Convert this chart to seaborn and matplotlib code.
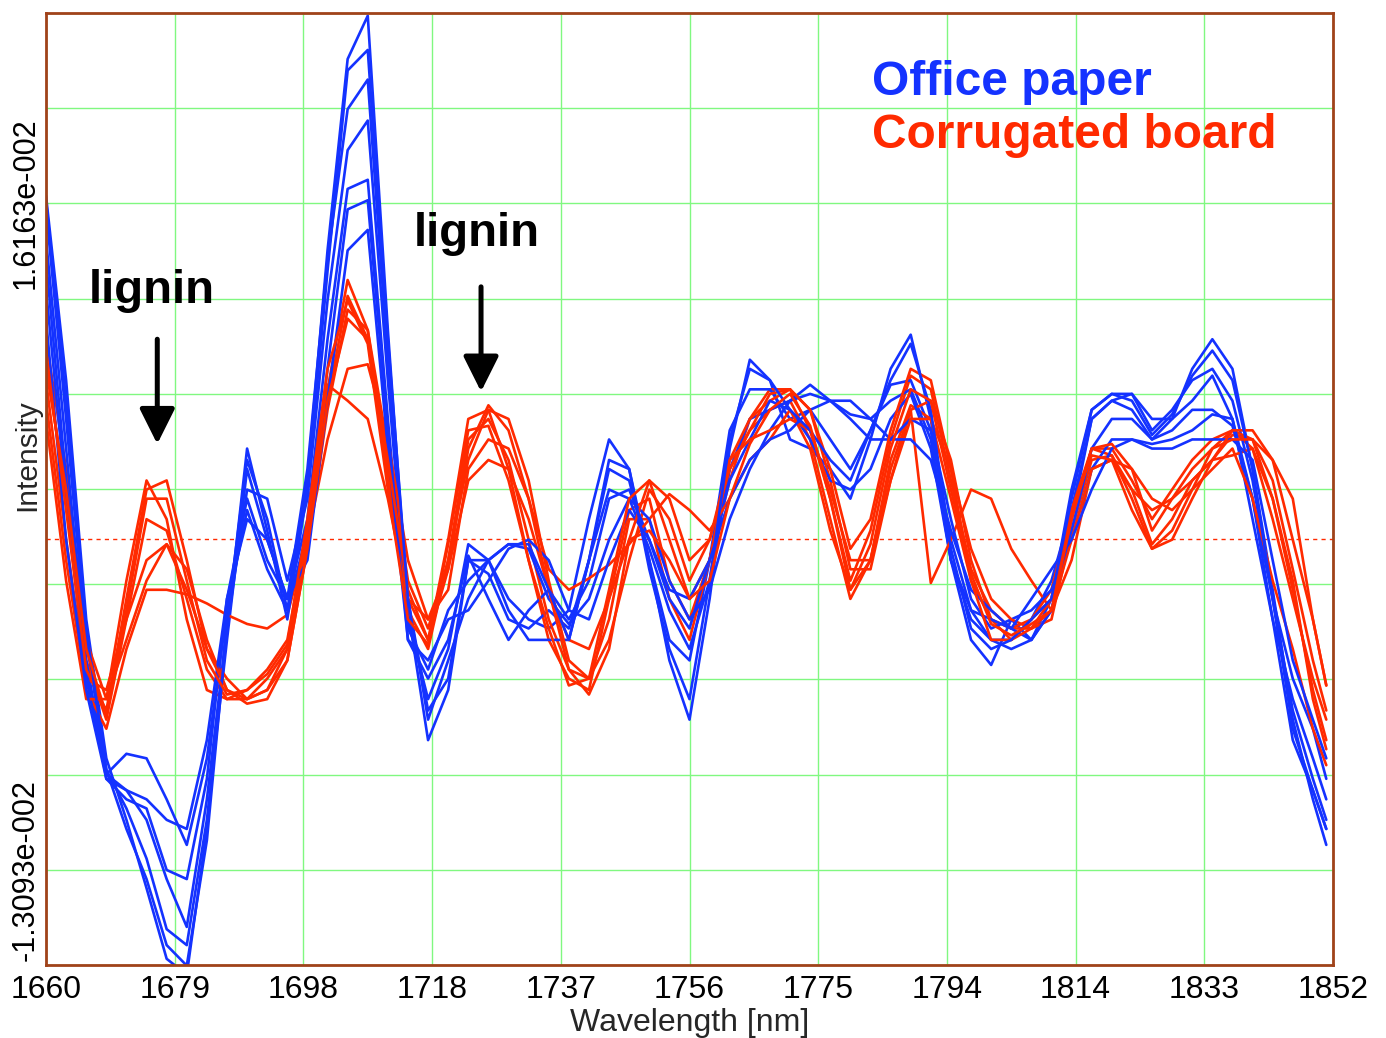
import numpy as np
import pandas as pd
import matplotlib
matplotlib.use("Agg")
import matplotlib.pyplot as plt
import seaborn as sns

# ---------------- data (intensity in units of 1e-3) ----------------
wavelength = np.append(np.arange(1660, 1850, 3), 1851)

office_1 = [16.5, 8.4, -2.1, -8.2, -10.9, -13.9, -17.0, -17.7, -11.3, -2.1,
            4.9, 2.3, -1.7, 4.0, 14.1, 22.5, 24.4, 10.6, -1.7, -7.4,
            -5.2, 0.5, 0.5, -1.2, -2.1, -2.5, -1.7, 2.3, 5.8, 4.5,
            0.5, -3.9, -6.5, -1.2, 5.4, 9.3, 8.4, 5.8, 5.4, 4.5,
            3.2, 5.8, 8.9, 10.4, 6.7, 0.5, -3.0, -4.1, -2.1, -3.0,
            -1.7, 2.3, 6.7, 7.5, 7.1, 5.8, 6.7, 8.9, 10.2, 8.9,
            4.5, -0.8, -6.5, -10.0, -12.0]
office_2 = [15.9, 6.7, -3.0, -8.7, -10.4, -12.6, -15.7, -16.4, -10.9, -3.0,
            4.5, 1.4, -1.2, 4.5, 13.7, 20.3, 21.6, 9.3, -1.2, -6.1,
            -4.7, 0.5, -0.1, -2.1, -2.5, -1.7, -2.5, 0.5, 4.5, 4.0,
            0.5, -3.0, -3.9, 0.5, 6.2, 8.0, 8.0, 6.7, 7.1, 5.8,
            4.5, 6.2, 8.2, 8.4, 6.2, 1.4, -1.7, -3.0, -3.4, -3.0,
            -1.2, 3.6, 7.1, 7.8, 7.8, 6.2, 7.1, 8.4, 8.9, 7.5,
            4.0, -1.2, -6.1, -9.1, -10.9]
office_3 = [14.6, 5.4, -3.9, -8.9, -9.6, -10.9, -13.5, -15.6, -10.0, -2.5,
            3.6, 3.2, -0.4, 3.2, 11.9, 18.5, 19.8, 8.4, -2.1, -5.6,
            -3.4, 1.2, 0.5, -1.7, -3.0, -3.0, -3.0, 0.5, 3.6, 3.2,
            1.0, -1.7, -3.4, -0.4, 4.5, 6.7, 7.1, 7.5, 8.2, 7.5,
            6.9, 6.7, 7.5, 8.0, 5.8, 0.5, -2.1, -3.0, -3.0, -2.1,
            -0.4, 2.7, 6.7, 7.5, 7.8, 6.7, 6.7, 7.5, 8.6, 6.7,
            2.3, -2.1, -5.6, -8.2, -10.0]
office_4 = [13.7, 4.0, -4.3, -9.1, -10.0, -10.4, -13.1, -13.5, -9.1, -1.2,
            3.2, 0.5, -1.2, 2.3, 10.2, 16.8, 17.2, 6.7, -3.0, -4.7,
            -3.0, 0.7, -1.2, -3.0, -1.7, -0.8, -2.1, -0.4, 3.2, 3.6,
            1.4, -1.2, -2.5, 0.5, 4.0, 5.8, 7.5, 7.1, 5.8, 4.0,
            3.6, 4.5, 6.7, 7.8, 5.4, 0.5, -1.7, -2.1, -2.5, -3.0,
            -1.7, 1.8, 5.4, 6.7, 6.7, 5.8, 6.2, 7.1, 7.1, 6.4,
            3.2, -2.1, -7.4, -9.6, -11.3]
office_5 = [12.4, 3.2, -4.7, -8.9, -8.0, -8.2, -10.0, -12.0, -8.2, -1.7,
            2.7, 0.1, -1.7, 1.8, 8.9, 15.9, 16.3, 6.2, -2.5, -4.3,
            -1.7, -0.4, 0.5, 1.2, 1.0, -1.2, -2.3, -1.2, 1.4, 3.2,
            2.3, -0.4, -2.1, -0.8, 2.3, 4.5, 6.2, 7.5, 7.8, 7.5,
            6.7, 5.8, 5.8, 6.7, 6.2, 2.3, -1.2, -2.5, -2.1, -1.7,
            -0.8, 1.4, 4.5, 5.8, 5.8, 5.6, 5.8, 6.2, 6.9, 6.7,
            3.2, -1.2, -4.7, -6.9, -9.1]
office_6 = [11.1, 1.4, -5.2, -9.1, -9.6, -10.0, -10.9, -11.3, -7.4, -1.2,
            2.3, 1.4, -1.2, 0.5, 7.5, 14.1, 15.0, 5.4, -3.0, -3.9,
            -2.1, -1.7, -0.4, 1.0, 1.4, 0.5, -1.7, -2.1, 0.5, 2.7,
            1.4, -0.8, -1.2, 0.5, 3.2, 4.9, 5.8, 6.2, 7.1, 7.5,
            7.5, 6.7, 5.8, 5.8, 4.9, 1.8, -0.8, -1.7, -2.5, -1.2,
            0.1, 1.4, 3.6, 5.4, 5.8, 5.4, 5.4, 5.8, 5.8, 5.8,
            4.9, 0.5, -3.9, -6.5, -8.2]
office_7 = [16.3, 7.5, -2.5, -8.7, -11.3, -13.5, -16.4, -17.3, -11.8, -2.5,
            5.4, 1.8, -2.1, 3.6, 13.2, 22.0, 22.9, 10.2, -1.2, -6.5,
            -3.9, -1.2, 0.5, 1.2, 1.2, -0.8, -3.0, 0.5, 4.9, 4.5,
            0.1, -3.4, -5.6, -0.4, 5.8, 8.9, 8.4, 7.1, 6.2, 4.9,
            4.0, 6.2, 8.4, 10.0, 7.1, 1.0, -2.5, -3.4, -3.0, -2.1,
            -1.2, 3.2, 7.1, 7.8, 7.5, 6.0, 6.9, 8.6, 9.7, 8.4,
            4.5, -1.2, -6.9, -9.6, -11.3]

board_1 = [10.2, 4.5, -3.0, -5.6, -0.4, 4.0, 2.3, -2.1, -5.2, -5.6,
           -5.2, -4.3, -3.0, 1.8, 8.0, 12.8, 10.6, 4.5, -1.2, -3.0,
           1.4, 6.7, 7.1, 4.5, 0.5, -3.0, -4.7, -5.2, -1.2, 2.7,
           3.2, -0.4, -2.1, 0.5, 4.0, 6.7, 8.0, 8.0, 6.2, 3.2,
           -0.4, 1.8, 5.8, 8.6, 8.0, 4.0, 0.1, -1.7, -2.5, -2.1,
           -1.2, 2.3, 5.4, 5.4, 4.0, 2.3, 3.6, 4.9, 5.8, 6.2,
           5.4, 2.3, -1.2, -4.7, -6.5]
board_2 = [9.3, 3.2, -3.9, -6.5, -2.1, 2.3, 1.8, -1.2, -4.3, -5.6,
           -5.6, -4.7, -3.4, 1.4, 7.5, 12.1, 10.2, 4.0, -1.7, -3.4,
           0.5, 5.8, 6.7, 4.9, 1.4, -2.1, -4.3, -4.7, -2.1, 2.3,
           2.3, -1.2, -3.0, 0.5, 4.5, 6.2, 7.1, 7.5, 5.8, 2.3,
           -1.2, 0.5, 4.9, 7.3, 6.7, 3.2, -0.4, -2.1, -2.5, -2.5,
           -2.1, 1.8, 4.9, 5.1, 3.6, 1.2, 2.3, 4.0, 4.9, 6.0,
           5.8, 3.2, -0.4, -5.6, -7.8]
board_3 = [8.4, 1.4, -4.7, -5.2, -2.1, 0.5, 1.2, -0.8, -3.4, -4.7,
           -5.6, -5.2, -3.9, 1.0, 7.1, 11.5, 10.6, 5.4, -0.4, -2.5,
           0.5, 4.9, 7.1, 6.7, 4.0, -0.4, -3.9, -4.7, -3.0, 0.5,
           3.6, 2.3, -0.4, 1.4, 4.9, 6.7, 7.5, 8.0, 7.1, 4.0,
           0.1, 0.1, 4.0, 7.1, 7.5, 4.9, 0.5, -2.1, -3.0, -2.1,
           -0.8, 2.7, 5.4, 5.1, 3.2, 1.0, 1.8, 3.6, 5.4, 6.2,
           5.8, 4.9, 3.2, -2.1, -5.0]
board_4 = [7.5, 0.5, -5.2, -6.9, -3.4, -0.8, -0.8, -1.0, -1.4, -1.9,
           -2.3, -2.5, -1.9, 1.4, 5.8, 8.9, 9.1, 5.8, 0.5, -2.1,
           -0.8, 4.5, 5.8, 5.4, 3.2, 0.1, -0.8, -0.3, 0.3, 1.2,
           2.3, 3.4, 2.7, 1.8, 3.2, 4.9, 5.8, 7.1, 5.4, 1.8,
           -0.8, 0.5, 4.5, 7.1, -0.5, 1.4, 3.6, 3.2, 1.0, -0.4,
           -1.7, 0.5, 4.5, 4.9, 3.6, 2.7, 3.2, 4.0, 4.9, 5.1,
           5.4, 3.2, -0.8, -5.2, -7.4]
board_5 = [6.7, -0.4, -5.6, -5.6, -3.0, -0.4, 1.2, 0.1, -3.0, -5.2,
           -5.6, -5.2, -3.4, 1.8, 8.2, 7.5, 6.7, 3.2, -1.2, -2.1,
           0.1, 4.0, 4.9, 4.5, 2.3, -0.8, -3.0, -3.4, -1.2, 1.4,
           1.8, 0.5, -1.2, 0.5, 4.9, 5.8, 6.2, 6.7, 6.2, 3.6,
           0.5, 0.5, 4.0, 6.7, 6.7, 4.5, 1.0, -1.2, -2.1, -2.5,
           -1.7, 1.4, 4.5, 4.9, 4.5, 3.2, 2.7, 3.6, 4.5, 5.4,
           3.2, -0.4, -3.4, -6.9, -8.5]
board_6 = [9.7, 2.7, -4.3, -6.1, -1.2, 3.6, 4.0, 0.5, -3.4, -5.2,
           -5.8, -5.6, -3.9, 1.0, 7.5, 11.1, 10.2, 4.9, -0.8, -3.0,
           0.1, 5.4, 7.3, 6.2, 3.2, -0.8, -4.3, -5.4, -3.4, 1.4,
           4.0, 3.2, 0.5, 1.4, 4.5, 6.2, 7.8, 8.0, 7.1, 4.5,
           1.0, 2.3, 6.2, 8.9, 8.4, 4.5, -0.4, -3.0, -3.0, -2.5,
           -1.2, 2.7, 5.1, 4.9, 2.7, 1.0, 1.4, 3.2, 4.9, 6.2,
           6.2, 4.9, 1.4, -2.1, -5.0]
board_7 = [8.9, 3.6, -3.4, -6.3, -1.7, 3.2, 3.2, -0.4, -3.9, -5.4,
           -5.2, -4.5, -3.2, 2.3, 8.9, 11.9, 10.0, 3.6, -2.1, -3.2,
           1.2, 6.2, 6.4, 4.0, 0.5, -2.5, -5.0, -4.7, -0.8, 3.2,
           4.0, 1.4, -1.2, -0.4, 3.2, 5.6, 7.1, 7.8, 6.4, 3.2,
           -0.8, 1.2, 5.4, 8.0, 7.5, 3.6, -0.1, -2.3, -2.8, -2.3,
           -1.7, 2.3, 5.4, 5.6, 4.5, 1.8, 3.2, 4.5, 5.4, 5.8,
           5.8, 4.0, 0.1, -3.9, -6.1]

office_series = [office_1, office_2, office_3, office_4, office_5, office_6, office_7]
board_series = [board_1, board_2, board_3, board_4, board_5, board_6, board_7]

xtick_labels = ["1660", "1679", "1698", "1718", "1737", "1756",
                "1775", "1794", "1814", "1833", "1852"]
ytick_labelled = [16.163, -13.093]
ytick_texts = ["1.6163e-002", "-1.3093e-002"]
mean_level = 1.43          # dashed reference line
UNIT = 1e-3

for s in office_series + board_series:
    assert len(s) == len(wavelength)

# ---------------- build long table ----------------
rows = []
for name, group in (("Office paper", office_series), ("Corrugated board", board_series)):
    for k, vals in enumerate(group):
        for w, v in zip(wavelength, vals):
            rows.append({"wavelength": w, "intensity": v * UNIT,
                         "material": name, "sample": f"{name} {k+1}"})
df = pd.DataFrame(rows)

BLUE = "#1432ff"
RED = "#ff2a00"
GRID = "#80f880"
FRAME = "#a0421a"

sns.set_style("white")
plt.rcParams["font.family"] = ["Liberation Sans", "DejaVu Sans"]

fig = plt.figure(figsize=(13.86, 10.38), dpi=100)
ax = fig.add_axes([46 / 1386, 1 - 965 / 1038, (1333 - 46) / 1386, (965 - 13) / 1038])

# interleave drawing so colours overlap like the original
for k in range(len(office_series)):
    for name, color in (("Office paper", BLUE), ("Corrugated board", RED)):
        sub = df[df["sample"] == f"{name} {k+1}"]
        sns.lineplot(data=sub, x="wavelength", y="intensity", color=color,
                     lw=1.9, estimator=None, sort=False, legend=False, ax=ax)

ax.axhline(mean_level * UNIT, color=RED, lw=1.0, ls=(0, (3, 3)), zorder=1)

# axes / grid
step = (ytick_labelled[0] - ytick_labelled[1]) / 7
grid_y = [(ytick_labelled[1] + step * k) * UNIT for k in range(-1, 10)]
ax.set_xlim(1660, 1852)
ax.set_ylim(grid_y[0], grid_y[-1])
ax.set_xticks(np.linspace(1660, 1852, len(xtick_labels)))
ax.set_xticklabels(xtick_labels)
ylabels = []
for g in grid_y:
    lab = ""
    for val, txt in zip(ytick_labelled, ytick_texts):
        if abs(g - val * UNIT) < 1e-7:
            lab = txt
    ylabels.append(lab)
ax.set_yticks(grid_y)
ax.set_yticklabels(ylabels)
ax.grid(True, color=GRID, lw=1.0)
ax.set_axisbelow(True)
ax.tick_params(axis="both", length=0, labelsize=23, colors="black")
ax.tick_params(axis="x", pad=7)
ax.tick_params(axis="y", pad=4, labelsize=22)
for lab in ax.get_yticklabels():
    lab.set_rotation(90)
    lab.set_va("center")
for s in ax.spines.values():
    s.set_color(FRAME)
    s.set_linewidth(2.0)
    s.set_visible(True)

ax.set_xlabel("Wavelength [nm]", fontsize=23)
ax.xaxis.set_label_coords(0.5, -0.045)
ax.set_ylabel("")
fig.text(27 / 1386, 1 - 455 / 1038, "Intensity", rotation=90,
         ha="center", va="center", fontsize=21.5)

# annotations
ax.text(1675.8, 11.8 * UNIT, "lignin", ha="center", va="baseline",
        fontsize=34, fontweight="bold", color="black")
ax.text(1724.2, 14.3 * UNIT, "lignin", ha="center", va="baseline",
        fontsize=34, fontweight="bold", color="black")
arrow = dict(arrowstyle="-|>,head_length=1.08,head_width=0.54", lw=3.6,
             color="black", shrinkA=0, shrinkB=0, mutation_scale=20)
ax.annotate("", xy=(1676.6, 5.6 * UNIT), xytext=(1676.6, 10.2 * UNIT), arrowprops=arrow)
ax.annotate("", xy=(1724.9, 7.9 * UNIT), xytext=(1724.9, 12.5 * UNIT), arrowprops=arrow)

ax.text(1783.2, 20.9 * UNIT, "Office paper", ha="left", va="baseline",
        fontsize=34.5, fontweight="bold", color=BLUE)
ax.text(1783.2, 18.6 * UNIT, "Corrugated board", ha="left", va="baseline",
        fontsize=34.5, fontweight="bold", color=RED)

fig.savefig("out.png", dpi=100, facecolor="white")
